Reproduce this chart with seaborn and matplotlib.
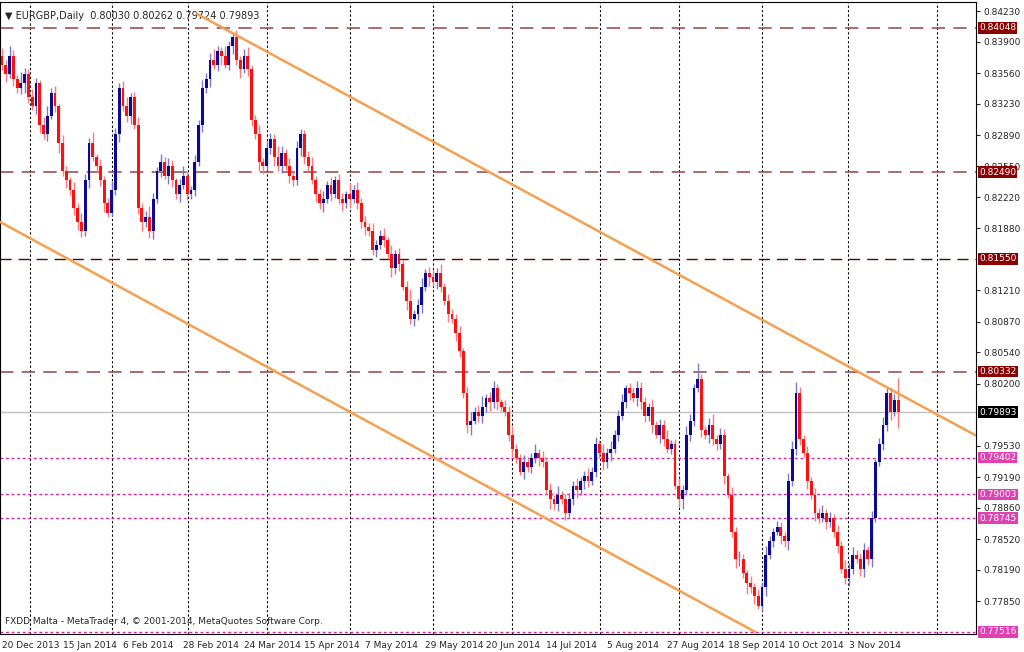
import matplotlib
matplotlib.use("Agg")
import matplotlib.pyplot as plt
import seaborn as sns
import numpy as np
import pandas as pd

closes = [0.8365,0.8355,0.8375,0.8350,0.8340,0.8345,0.8355,0.8330,0.8320,0.8345,
0.8300,0.8290,0.8310,0.8335,0.8320,0.8280,0.8250,0.8240,0.8230,0.8210,
0.8195,0.8185,0.8240,0.8280,0.8265,0.8255,0.8240,0.8215,0.8205,0.8230,
0.8290,0.8340,0.8320,0.8310,0.8330,0.8300,0.8210,0.8195,0.8200,0.8185,
0.8220,0.8250,0.8260,0.8245,0.8255,0.8240,0.8225,0.8235,0.8245,0.8225,
0.8230,0.8260,0.8300,0.8340,0.8350,0.8370,0.8365,0.8380,0.8375,0.8365,
0.8385,0.8395,0.8370,0.8360,0.8375,0.8360,0.8305,0.8290,0.8260,0.8255,
0.8275,0.8285,0.8265,0.8255,0.8270,0.8255,0.8245,0.8240,0.8275,0.8290,
0.8265,0.8255,0.8240,0.8225,0.8215,0.8220,0.8235,0.8225,0.8240,0.8220,
0.8215,0.8225,0.8220,0.8230,0.8215,0.8195,0.8190,0.8185,0.8165,0.8170,
0.8180,0.8175,0.8160,0.8145,0.8160,0.8150,0.8125,0.8110,0.8090,0.8095,
0.8105,0.8125,0.8140,0.8135,0.8130,0.8140,0.8125,0.8110,0.8095,0.8090,
0.8075,0.8055,0.8010,0.7975,0.7980,0.7990,0.7985,0.7995,0.8005,0.8000,
0.8015,0.8000,0.7995,0.7990,0.7965,0.7950,0.7940,0.7925,0.7935,0.7930,
0.7940,0.7945,0.7940,0.7935,0.7905,0.7895,0.7890,0.7900,0.7895,0.7880,
0.7895,0.7910,0.7905,0.7915,0.7920,0.7915,0.7925,0.7955,0.7945,0.7935,
0.7945,0.7950,0.7965,0.7985,0.8000,0.8015,0.8010,0.8005,0.8015,0.8000,
0.7985,0.7995,0.7975,0.7965,0.7975,0.7960,0.7950,0.7955,0.7910,0.7895,
0.7905,0.7965,0.7980,0.8015,0.8025,0.7970,0.7965,0.7975,0.7960,0.7955,
0.7965,0.7920,0.7900,0.7860,0.7830,0.7830,0.7815,0.7805,0.7800,0.7790,
0.7780,0.7800,0.7835,0.7850,0.7860,0.7865,0.7855,0.7850,0.7915,0.7950,
0.8010,0.7960,0.7945,0.7915,0.7900,0.7880,0.7875,0.7880,0.7870,0.7875,
0.7860,0.7845,0.7820,0.7810,0.7820,0.7835,0.7830,0.7820,0.7840,0.7830,
0.7875,0.7935,0.7955,0.7975,0.8010,0.7990,0.8003,0.79893]
first_open = 0.8375
upper_pips = [8,5,10,6,4,12,7,5,9,6, 4,8,10,5,7,3,9,6,4,8, 5,10,7,6,12,4,8,5,6,9,
7,5,8,10,4,6,9,5,7,12, 6,4,8,5,9,7,3,6,10,5, 4,7,5,9,6,8,12,5,4,10,
6,5,8,4,7,9,5,6,10,4, 8,6,5,12,7,4,9,5,8,6, 4,7,10,5,6,8,4,9,5,7,
6,4,12,5,8,6,7,4,9,5, 6,8,4,10,5,7,4,6,12,5, 7,9,4,6,8,5,10,4,7,6,
5,8,4,6,9,5,7,12,4,6, 8,5,4,7,6,9,5,4,8,6, 5,10,4,7,6,8,5,9,4,6,
7,5,8,4,6,9,5,7,4,10, 6,8,5,7,9,4,6,5,8,7, 6,4,9,5,7,6,10,4,5,8,
6,9,7,5,18,6,4,8,12,5, 7,6,4,8,5,9,6,4,7,5, 8,6,10,5,4,7,6,5,9,8,
12,6,5,8,4,7,6,9,5,6, 4,7,5,9,6,8,5,7,
8,5,7,4,6,9,5,7,6,23]
lower_pips = [6,9,4,8,5,7,10,6,4,8, 9,5,7,4,6,10,5,8,6,7, 9,6,5,8,4,7,6,9,5,4,
6,8,5,7,9,4,6,10,5,7, 8,5,6,4,9,7,5,8,4,6, 5,7,4,8,6,9,5,7,10,4,
6,8,5,9,4,7,6,5,10,8, 4,6,9,5,7,4,8,6,5,9, 7,5,4,8,6,9,5,7,4,6,
8,5,10,4,6,7,9,5,6,8, 4,7,5,9,6,8,4,10,5,7, 6,8,5,9,4,7,6,5,8,4,
9,6,5,8,10,4,6,7,5,9, 6,8,4,5,7,9,6,4,8,5, 7,6,9,5,4,10,6,8,5,7,
4,6,8,5,9,7,4,6,5,8, 6,9,5,7,4,6,8,5,9,7, 6,5,8,4,9,7,5,6,4,8,
10,5,7,6,4,8,5,9,6,7, 5,8,4,6,9,7,5,12,6,8, 4,6,9,5,7,4,8,6,10,5,
7,6,4,9,5,8,6,4,7,5, 6,8,5,7,9,6,4,8,
9,6,8,5,4,7,6,9,5,17]

date_labels = ["20 Dec 2013","15 Jan 2014","6 Feb 2014","28 Feb 2014","24 Mar 2014",
"15 Apr 2014","7 May 2014","29 May 2014","20 Jun 2014","14 Jul 2014","5 Aug 2014",
"27 Aug 2014","18 Sep 2014","10 Oct 2014","3 Nov 2014"]
label_every = 16
grid_bars = [7.4, 29.1, 49.2, 70.1, 92.1, 114, 134.9, 158.2, 179.1, 201.1, 223.8, 247.4]
ytick_vals = [0.84230,0.83900,0.83560,0.83230,0.82890,0.82550,0.82220,0.81880,
0.81210,0.80870,0.80540,0.80200,0.79530,0.79190,0.78860,0.78520,0.78190,0.77850]
brown_levels = [0.84048, 0.82490, 0.80332]
dark_level = 0.81550
pink_levels = [0.79402, 0.79003, 0.78745, 0.77516]
current_price = 0.79893
upper_chan_x = [51.6, 257.6]; upper_chan_y = [0.84200, 0.79640]
lower_chan_x = [-0.5, 199.2]; lower_chan_y = [0.81950, 0.77516]

sns.set_style("white")
plt.rcParams['font.family'] = ['DejaVu Sans']
fig = plt.figure(figsize=(10.24, 6.52), dpi=100)
ax = fig.add_axes([0.0, 18/652, 976/1024, 632/652])
ylo, yhi = 0.77494, 0.84329
xlo, xhi = -0.53, 257.6

n = len(closes)
opens = [first_open] + closes[:-1]
for i in range(n):
    o, c = opens[i], closes[i]
    hi = max(o, c) + upper_pips[i]*1e-4
    lo = min(o, c) - lower_pips[i]*1e-4
    up = c >= o
    body_c = "#0a0a96" if up else "#ff1010"
    wick_c = "#7a7ac8" if up else "#ff7a7a"
    ax.vlines(i, lo, hi, color=wick_c, lw=1, zorder=3)
    ax.bar(i, max(abs(c-o), 0.00003), bottom=min(o, c), width=0.75, color=body_c, lw=0, zorder=4)

for g in grid_bars:
    ax.axvline(g, color="black", ls=(0,(2,2)), lw=0.8, zorder=1)
for lv in brown_levels:
    ax.axhline(lv, color="#a05050", ls=(0,(8,5)), lw=1.2, zorder=2)
ax.axhline(dark_level, color="#600000", ls=(0,(8,5)), lw=1.0, zorder=2)
for lv in pink_levels:
    ax.axhline(lv, color="#e020a0", ls=(0,(2,2)), lw=1.0, zorder=2)
ax.axhline(current_price, color="#c0c0c0", lw=1.0, zorder=2)

chan = pd.DataFrame({"x": upper_chan_x + lower_chan_x, "y": upper_chan_y + lower_chan_y,
                     "line": ["u","u","l","l"]})
sns.lineplot(data=chan, x="x", y="y", units="line", estimator=None, color="#f5a050", lw=1.8, ax=ax, zorder=5)
ax.set_xlabel(""); ax.set_ylabel("")
ax.set_xlim(xlo, xhi); ax.set_ylim(ylo, yhi)

ax.yaxis.tick_right()
ax.set_yticks(ytick_vals)
ax.set_yticklabels([f"{v:.5f}" for v in ytick_vals], fontsize=6.5)
ax.tick_params(axis="y", length=3, pad=2)
ax.set_xticks([i*label_every for i in range(len(date_labels))])
ax.set_xticklabels(date_labels, fontsize=6.5, ha="left")
ax.tick_params(axis="x", length=3, pad=2)
for s in ax.spines.values():
    s.set_color("black"); s.set_linewidth(0.8)

def tag(v, fc, tc="white"):
    ax.text(1.003, v, f"{v:.5f}", transform=ax.get_yaxis_transform(), fontsize=6.5, color=tc,
            va="center", ha="left", bbox=dict(boxstyle="square,pad=0.15", fc=fc, ec="none"), zorder=10, clip_on=False)
for lv in brown_levels + [dark_level]:
    tag(lv, "#8b0000")
for lv in pink_levels:
    tag(lv, "#e040b0")
tag(current_price, "black")

ax.text(0.005, 0.985, "▼ EURGBP,Daily  0.80030 0.80262 0.79724 0.79893", transform=ax.transAxes,
        fontsize=7, va="top", ha="left")
ax.text(0.005, 0.012, "FXDD Malta - MetaTrader 4, © 2001-2014, MetaQuotes Software Corp.",
        transform=ax.transAxes, fontsize=6.5, va="bottom", ha="left")
fig.savefig("out.png", dpi=100)
